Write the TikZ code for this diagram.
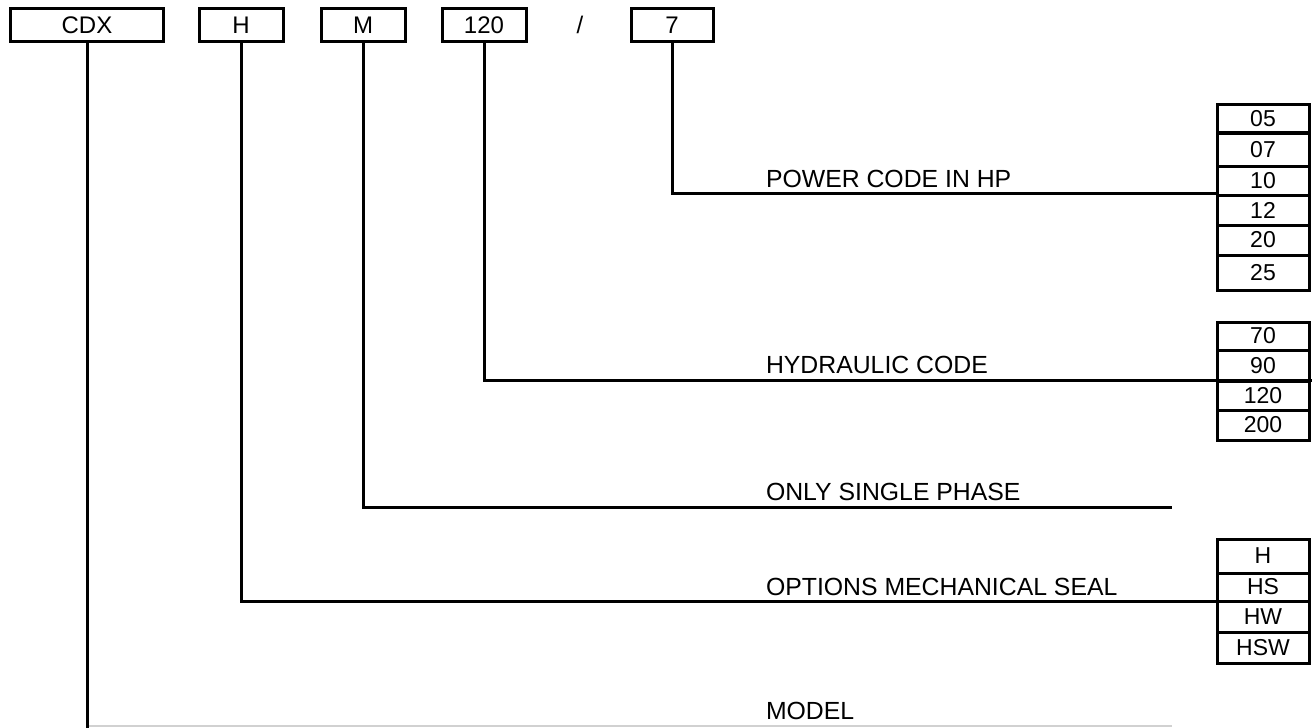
\documentclass[tikz,border=0pt]{standalone}
\usepackage{fontspec}
\setmainfont{Liberation Sans}
\begin{document}
\begin{tikzpicture}[x=1bp,y=-1bp,
  every node/.style={inner sep=0pt, outer sep=0pt},
  topbox/.style={draw, line width=3bp, minimum height=33bp, font=\fontsize{24bp}{28bp}\selectfont},
  cell/.style={draw, line width=3bp, minimum width=92bp, font=\fontsize{23bp}{27bp}\selectfont},
  lbl/.style={anchor=base west, font=\fontsize{24.8bp}{29bp}\selectfont},
  conn/.style={line width=3bp},
  faint/.style={line width=1.5bp, draw=black!18}]
\useasboundingbox (0,0) rectangle (1316,727);
% top code boxes
\node[topbox, minimum width=152bp] (cdx) at (87,25) {CDX};
\node[topbox, minimum width=84bp] (bh) at (241,25) {H};
\node[topbox, minimum width=84bp] (bm) at (363,25) {M};
\node[topbox, minimum width=84bp] (b120) at (484,25) {120};
\node[font=\fontsize{24bp}{28bp}\selectfont] (slash) at (580,25) {/};
\node[topbox, minimum width=82bp] (b7) at (672,25) {7};
% power code stack
\node[cell, minimum height=28bp] (p05) at (1263,119) {05};
\node[cell, minimum height=33bp] (p07) at (1263,149.5) {07};
\node[cell, minimum height=29bp] (p10) at (1263,180.5) {10};
\node[cell, minimum height=30bp] (p12) at (1263,210) {12};
\node[cell, minimum height=30bp] (p20) at (1263,240) {20};
\node[cell, minimum height=35bp] (p25) at (1263,272.5) {25};
% hydraulic stack
\node[cell, minimum height=28bp] (h70) at (1263,336) {70};
\node[cell, minimum height=31bp] (h90) at (1263,365.5) {90};
\node[cell, minimum height=29bp] (h120) at (1263,395.5) {120};
\node[cell, minimum height=30bp] (h200) at (1263,425) {200};
% seal stack
\node[cell, minimum height=34bp] (sH) at (1263,556) {H};
\node[cell, minimum height=28bp] (sHS) at (1263,587) {HS};
\node[cell, minimum height=31bp] (sHW) at (1263,616.5) {HW};
\node[cell, minimum height=31bp] (sHSW) at (1263,647.5) {HSW};
% labels
\node[lbl] (lpow) at (766,187) {POWER CODE IN HP};
\node[lbl] (lhyd) at (766,373) {HYDRAULIC CODE};
\node[lbl] (lsin) at (766,500) {ONLY SINGLE PHASE};
\node[lbl] (lopt) at (766,595) {OPTIONS MECHANICAL SEAL};
\node[lbl] (lmod) at (766,719) {MODEL};
% free ends
\coordinate (powEnd) at (1217,193);
\coordinate (hydEnd) at (1312,380);
\coordinate (sinEnd) at (1172,507);
\coordinate (optEnd) at (1217,601);
\coordinate (modBot) at (87,728);
\coordinate (modStart) at (88,726);
\coordinate (modEnd) at (1172,726);
% connectors
\draw[conn] (b7.south) |- (powEnd);
\draw[conn] (b120.south) |- (hydEnd);
\draw[conn] (bm.south) |- (sinEnd);
\draw[conn] (bh.south) |- (optEnd);
\draw[faint] (modStart) -- (modEnd);
\draw[conn] (cdx.south) -- (modBot);
\end{tikzpicture}
\end{document}
